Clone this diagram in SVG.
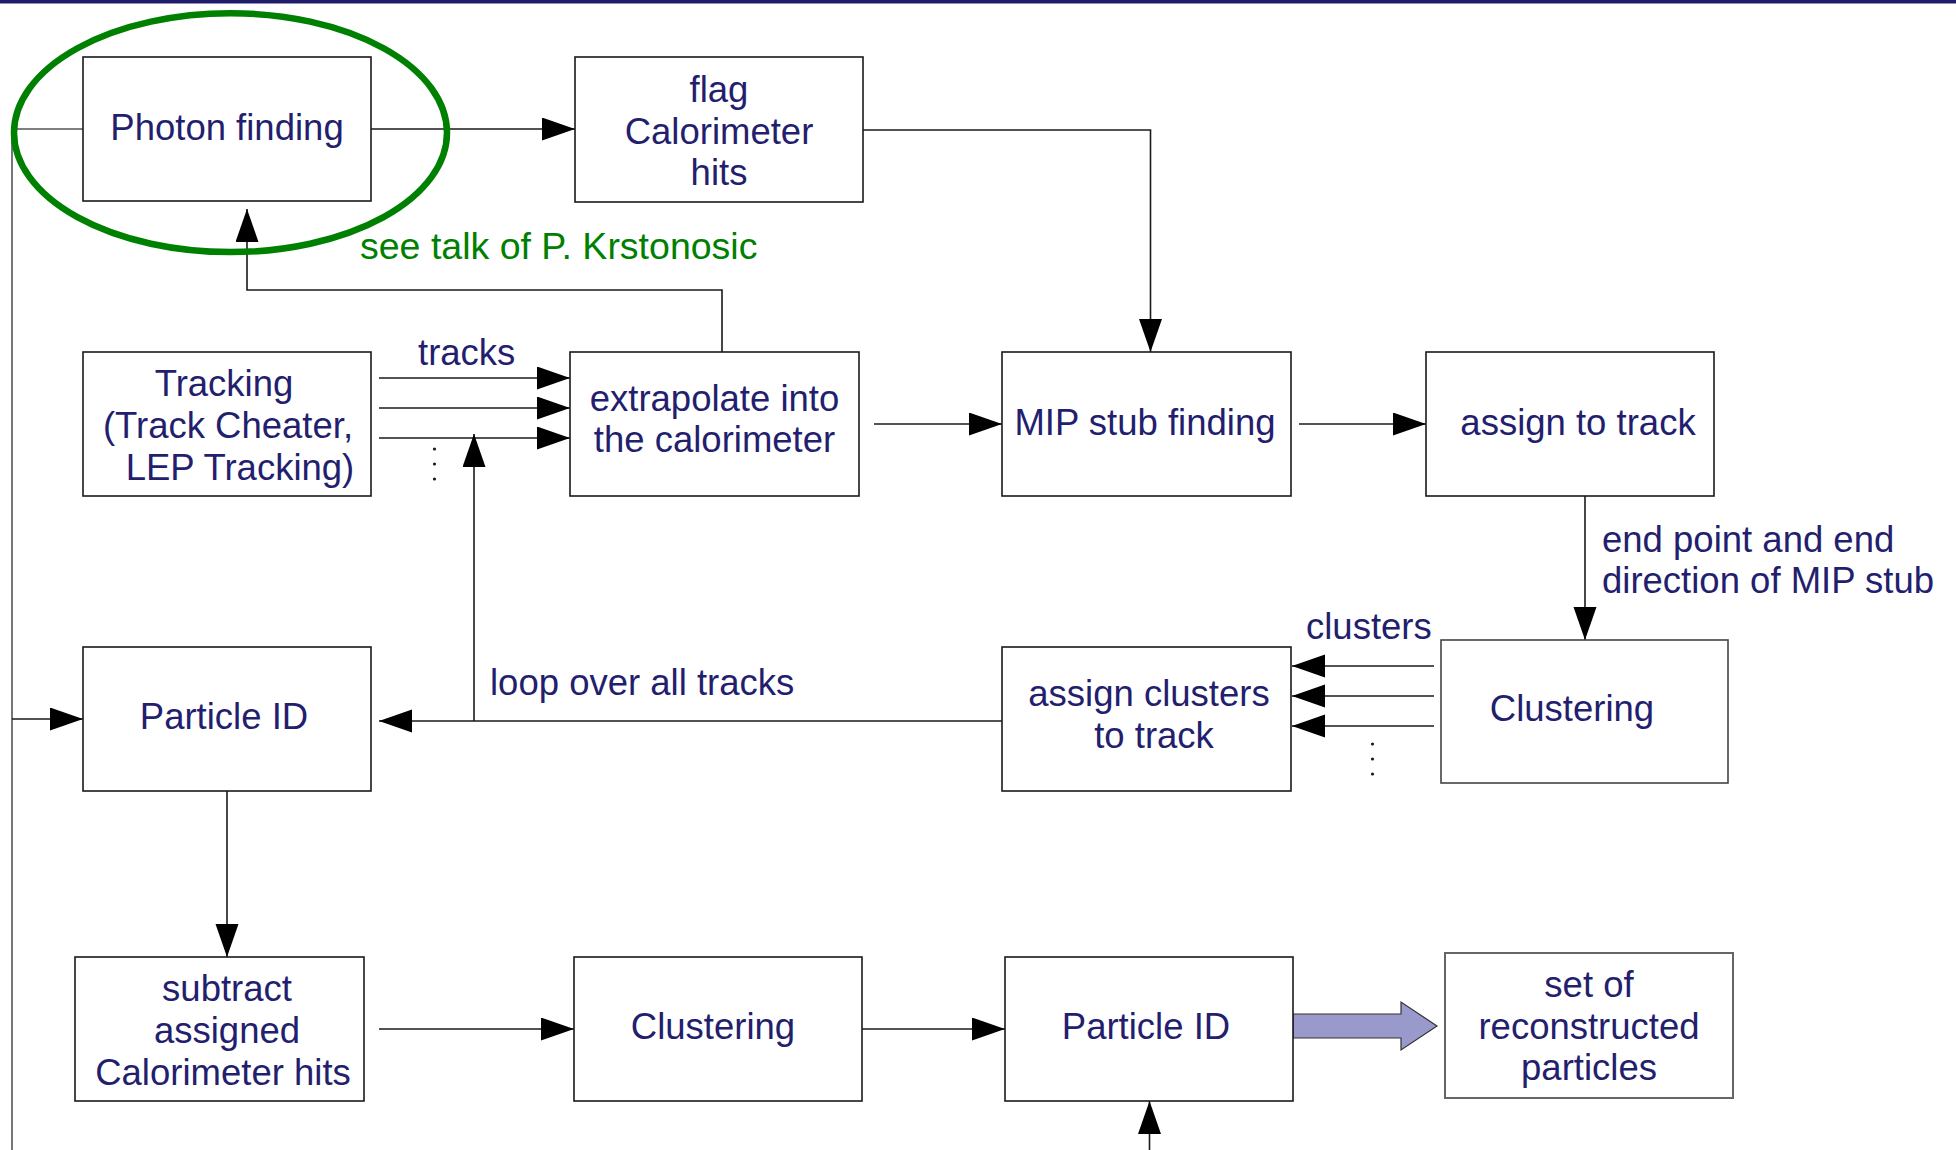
<svg xmlns="http://www.w3.org/2000/svg" width="1956" height="1150" viewBox="0 0 1956 1150">
  <style>
    .box { fill: #ffffff; stroke: #1a1a1a; stroke-width: 1.6; }
    .lbl { font-family: "Liberation Sans", Arial, sans-serif; font-size: 36.5px; fill: #231e6e; }
    .mid { text-anchor: middle; }
    .wire { fill: none; stroke: #1a1a1a; stroke-width: 1.6; }
    .dot { fill: #1a1a1a; }
  </style>
  <defs>
    <marker id="arrow" markerUnits="userSpaceOnUse" markerWidth="34" markerHeight="24" refX="33" refY="11.5" orient="auto">
      <path d="M0,0 L33,11.5 L0,23 Z" fill="#000000"/>
    </marker>
  </defs>

  <rect width="1956" height="1150" fill="#ffffff"/>
  <!-- header rule -->
  <rect x="0" y="0" width="1956" height="3.5" fill="#211c6a"/>

  <!-- connectors -->
  <g id="connectors">
    <path class="wire" d="M371,129 H575" marker-end="url(#arrow)"/>
    <path class="wire" d="M863,130 H1150.5 V352" marker-end="url(#arrow)"/>
    <path class="wire" d="M722,352 V290 H247 V209" marker-end="url(#arrow)"/>
    <path class="wire" d="M379,378 H570" marker-end="url(#arrow)"/>
    <path class="wire" d="M379,408 H570" marker-end="url(#arrow)"/>
    <path class="wire" d="M379,438 H570" marker-end="url(#arrow)"/>
    <path class="wire" d="M874,424 H1002" marker-end="url(#arrow)"/>
    <path class="wire" d="M1299,424 H1426" marker-end="url(#arrow)"/>
    <path class="wire" d="M1585,496 V640" marker-end="url(#arrow)"/>
    <path class="wire" d="M1434,666 H1292" marker-end="url(#arrow)"/>
    <path class="wire" d="M1434,696 H1292" marker-end="url(#arrow)"/>
    <path class="wire" d="M1434,726 H1292" marker-end="url(#arrow)"/>
    <path class="wire" d="M1002,721 H379" marker-end="url(#arrow)"/>
    <path class="wire" d="M474,721 V434" marker-end="url(#arrow)"/>
    <path class="wire" d="M83,129 H12 V1150" style="stroke:#555555"/>
    <path class="wire" d="M12,719 H83" marker-end="url(#arrow)"/>
    <path class="wire" d="M227,791 V957" marker-end="url(#arrow)"/>
    <path class="wire" d="M379,1029 H574" marker-end="url(#arrow)"/>
    <path class="wire" d="M862,1029 H1005" marker-end="url(#arrow)"/>
    <path class="wire" d="M1149.5,1150 V1101" marker-end="url(#arrow)"/>
    <!-- broad output arrow -->
    <polygon points="1293,1014 1401,1014 1401,1002 1437,1026 1401,1050 1401,1038 1293,1038" fill="#9999cc" stroke="#333333" stroke-width="1.2"/>
    <!-- continuation dots -->
    <circle class="dot" cx="434.5" cy="449" r="1.6"/>
    <circle class="dot" cx="434.5" cy="464" r="1.6"/>
    <circle class="dot" cx="434.5" cy="479" r="1.6"/>
    <circle class="dot" cx="1372.5" cy="744" r="1.6"/>
    <circle class="dot" cx="1372.5" cy="759" r="1.6"/>
    <circle class="dot" cx="1372.5" cy="774" r="1.6"/>
  </g>

  <!-- connector labels -->
  <g id="labels">
    <text class="lbl" x="418" y="365">tracks</text>
    <text class="lbl" x="490" y="695">loop over all tracks</text>
    <text class="lbl" x="1306" y="639">clusters</text>
    <text class="lbl" x="1602" y="552">end point and end</text>
    <text class="lbl" x="1602" y="593">direction of MIP stub</text>
    <text class="lbl" x="360" y="259" style="fill:#008000;font-size:37.5px">see talk of P. Krstonosic</text>
  </g>

  <!-- nodes -->
  <g id="photon-finding">
    <rect class="box" x="83" y="57" width="288" height="144"/>
    <text class="lbl mid" x="227" y="140">Photon finding</text>
  </g>
  <g id="flag-hits">
    <rect class="box" x="575" y="57" width="288" height="145"/>
    <text class="lbl mid" x="719" y="101.5">flag</text>
    <text class="lbl mid" x="719" y="143.5">Calorimeter</text>
    <text class="lbl mid" x="719" y="185">hits</text>
  </g>
  <g id="tracking">
    <rect class="box" x="83" y="352" width="288" height="144"/>
    <text class="lbl mid" x="224" y="396">Tracking</text>
    <text class="lbl mid" x="228" y="438">(Track Cheater,</text>
    <text class="lbl mid" x="240" y="480">LEP Tracking)</text>
  </g>
  <g id="extrapolate">
    <rect class="box" x="570" y="352" width="289" height="144"/>
    <text class="lbl mid" x="714.5" y="411">extrapolate into</text>
    <text class="lbl mid" x="714.5" y="452">the calorimeter</text>
  </g>
  <g id="mip-stub">
    <rect class="box" x="1002" y="352" width="289" height="144"/>
    <text class="lbl mid" x="1145" y="435">MIP stub finding</text>
  </g>
  <g id="assign-track">
    <rect class="box" x="1426" y="352" width="288" height="144"/>
    <text class="lbl mid" x="1578" y="435">assign to track</text>
  </g>
  <g id="clustering-1">
    <rect class="box" x="1441" y="640" width="287" height="143" style="stroke:#444444"/>
    <text class="lbl mid" x="1572" y="721">Clustering</text>
  </g>
  <g id="assign-clusters">
    <rect class="box" x="1002" y="647" width="289" height="144"/>
    <text class="lbl mid" x="1149" y="706">assign clusters</text>
    <text class="lbl mid" x="1154" y="748">to track</text>
  </g>
  <g id="particle-id-1">
    <rect class="box" x="83" y="647" width="288" height="144"/>
    <text class="lbl mid" x="224" y="729">Particle ID</text>
  </g>
  <g id="subtract">
    <rect class="box" x="75" y="957" width="289" height="144"/>
    <text class="lbl mid" x="227" y="1001">subtract</text>
    <text class="lbl mid" x="227" y="1043">assigned</text>
    <text class="lbl mid" x="223" y="1085">Calorimeter hits</text>
  </g>
  <g id="clustering-2">
    <rect class="box" x="574" y="957" width="288" height="144"/>
    <text class="lbl mid" x="713" y="1039">Clustering</text>
  </g>
  <g id="particle-id-2">
    <rect class="box" x="1005" y="957" width="288" height="144"/>
    <text class="lbl mid" x="1146" y="1039">Particle ID</text>
  </g>
  <g id="reconstructed">
    <rect class="box" x="1445" y="953" width="288" height="145" style="stroke:#666666;stroke-width:2"/>
    <text class="lbl mid" x="1589" y="997">set of</text>
    <text class="lbl mid" x="1589" y="1039">reconstructed</text>
    <text class="lbl mid" x="1589" y="1080">particles</text>
  </g>

  <!-- highlight ring -->
  <ellipse id="photon-highlight" cx="230.5" cy="132.7" rx="216.5" ry="119.4" fill="none" stroke="#008000" stroke-width="6.5"/>
</svg>
